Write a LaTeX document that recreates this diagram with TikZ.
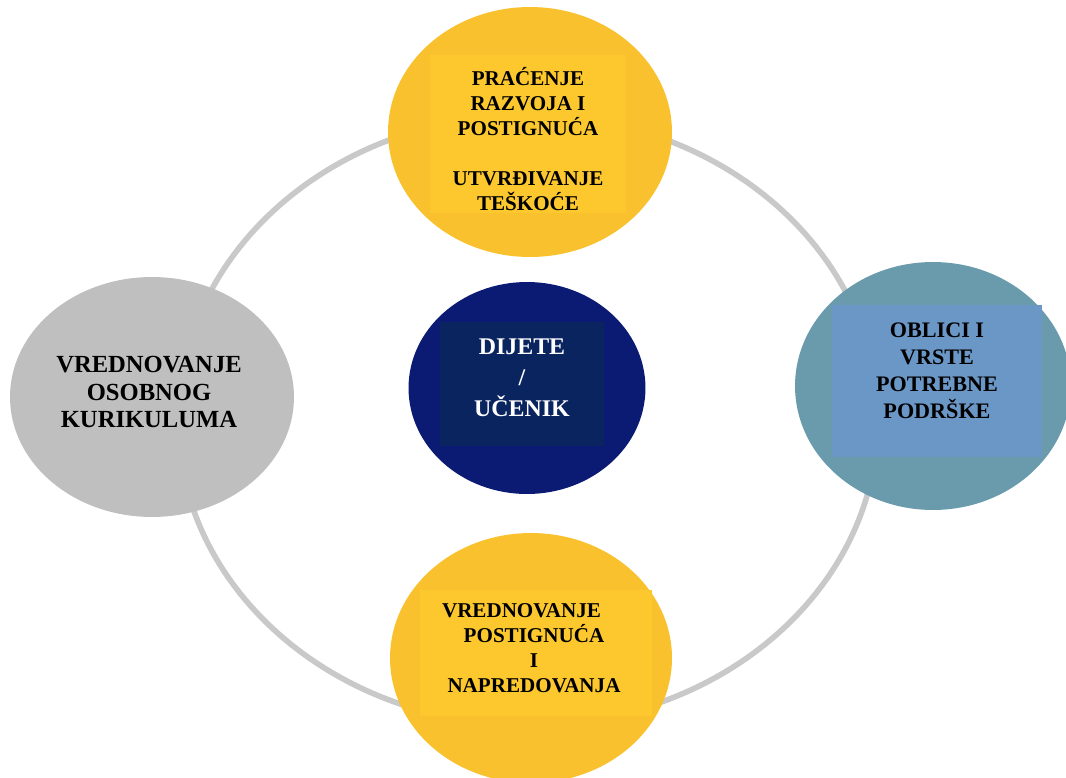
\documentclass[tikz,border=0pt]{standalone}
\usepackage{fontspec}
\setmainfont{Liberation Serif}
\usepackage{xcolor}
\usetikzlibrary{shapes.geometric,positioning}

\definecolor{ringgray}{HTML}{C9C9C9}
\definecolor{sungold}{HTML}{F8C12D}
\definecolor{sunlight}{HTML}{FCC82E}
\definecolor{tealgray}{HTML}{6A9BAD}
\definecolor{skyblue}{HTML}{6B97C7}
\definecolor{navy}{HTML}{0B1A72}
\definecolor{navydark}{HTML}{0A2460}
\definecolor{stone}{HTML}{BFBFBF}

\begin{document}
\begin{tikzpicture}[
    x=0.02cm, y=-0.02cm,
    ring/.style={ellipse, draw=ringgray, line width=3.2pt, minimum width=14cm, minimum height=12.2cm, inner sep=0pt},
    blob/.style={ellipse, inner sep=0pt},
    panel/.style={rectangle, inner sep=0pt},
    label/.style={align=center, font=\bfseries\fontsize{12}{14.2}\selectfont},
]
    \useasboundingbox (0,0) rectangle (1066,778);

    % ring behind everything
    \node[ring] (cycle) at (528,420) {};

    % outer ellipses
    \node[blob, fill=sungold, minimum width=5.68cm, minimum height=5cm] (track) at (530,132) {};
    \node[blob, fill=tealgray, minimum width=5.52cm, minimum height=4.96cm] (support) at (933,386) {};
    \node[blob, fill=sungold, minimum width=5.64cm, minimum height=5cm] (assess) at (531,658) {};
    \node[blob, fill=stone, minimum width=5.68cm, minimum height=4.8cm] (curric) at (152,397) {};
    \node[blob, fill=navy, minimum width=4.74cm, minimum height=4.24cm] (child) at (527,388) {};

    % inner panels
    \node[panel, fill=sunlight, minimum width=3.94cm, minimum height=3.16cm] (trackbox) at (528,134) {};
    \node[panel, fill=skyblue, minimum width=4.2cm, minimum height=3.04cm] (supportbox) at (937,381) {};
    \node[panel, fill=sunlight, minimum width=4.64cm, minimum height=2.54cm] (assessbox) at (536,653) {};
    \node[panel, fill=navydark, minimum width=3.3cm, minimum height=2.5cm] (childbox) at (522,384) {};

    % texts
    \node[label] (tracktext) at (trackbox.center) [yshift=-0.1cm] {PRAĆENJE\\RAZVOJA I\\POSTIGNUĆA\\[14pt]UTVRĐIVANJE\\TEŠKOĆE};
    \node[label, font=\bfseries\fontsize{12.6}{15.4}\selectfont] (supporttext) at (937,371) {OBLICI I\\VRSTE\\POTREBNE\\PODRŠKE};
    \node[label] (assesstext) at (534,648) {VREDNOVANJE\hspace*{0.5cm}\\POSTIGNUĆA\\I\\NAPREDOVANJA};
    \node[label, font=\bfseries\fontsize{14}{15.8}\selectfont] (currictext) at (149,392) {VREDNOVANJE\\OSOBNOG\\KURIKULUMA};
    \node[label, text=white, font=\bfseries\fontsize{13.6}{17.6}\selectfont] (childtext) at (522,378) {DIJETE\\/\\UČENIK};
\end{tikzpicture}
\end{document}
